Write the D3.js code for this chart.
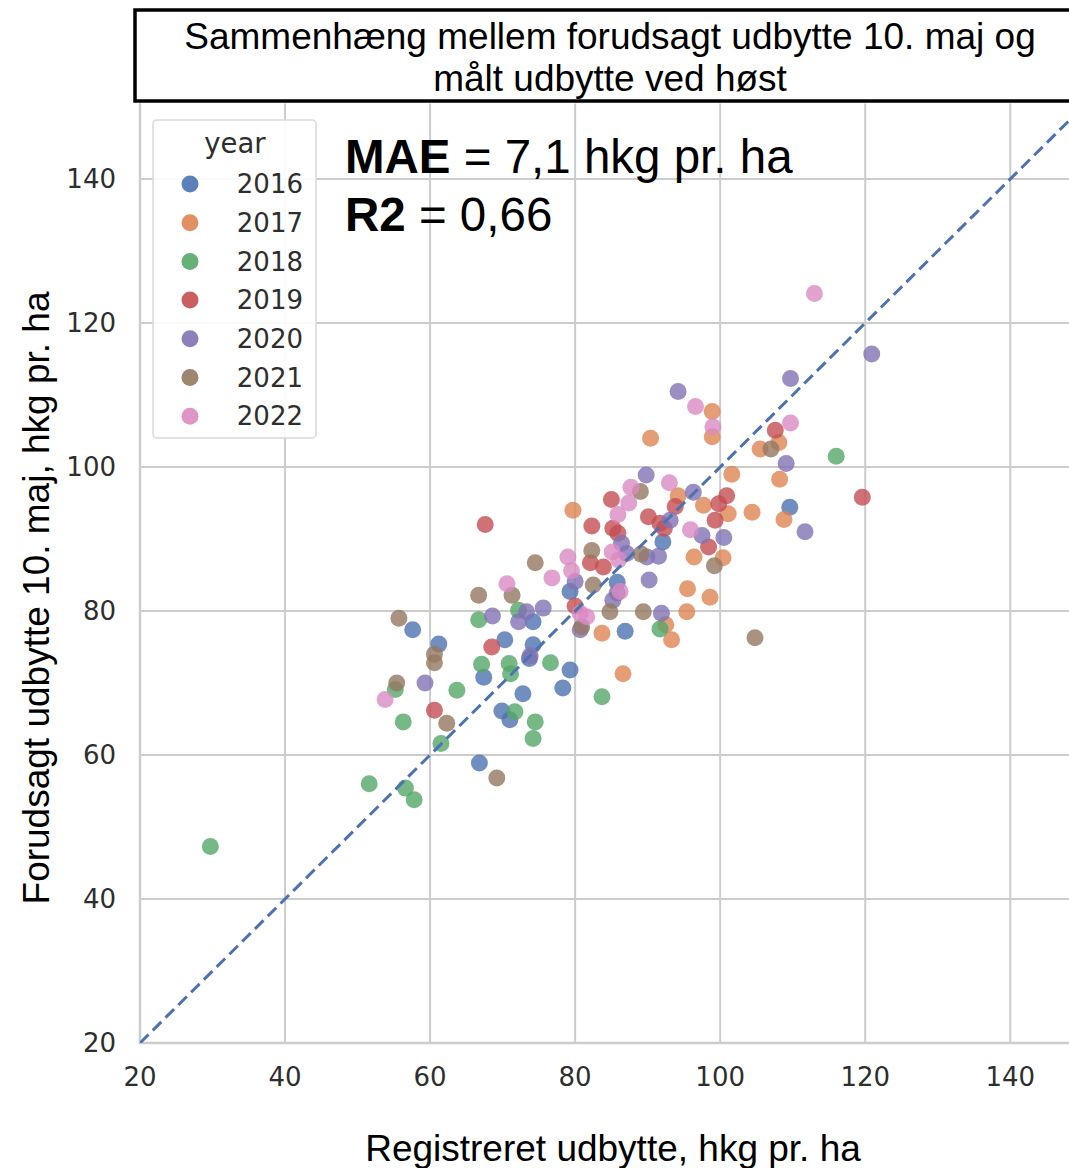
<!DOCTYPE html>
<html>
<head>
<meta charset="utf-8">
<script src="https://cdn.jsdelivr.net/npm/d3@7"></script>
<style>
  body { margin: 0; background: #fff; }
</style>
</head>
<body>
<svg id="chart" width="1069" height="1168"></svg>
<script>
// [registreret, forudsagt] per year
const pts2016 = [[57.6,77.4],[61.2,75.4],[66.8,58.9],[67.4,70.8],[70.3,76.0],[69.9,66.1],[71.0,64.9],[72.8,68.5],[74.2,75.3],[73.7,73.4],[74.2,78.5],[79.3,71.8],[78.3,69.3],[79.3,82.7],[92.1,89.6],[86.9,77.2],[109.6,94.4],[85.8,84.0]];
const pts2017 = [[79.7,94.0],[90.4,104.0],[98.9,107.7],[98.9,104.2],[94.2,96.0],[97.7,94.7],[101.1,93.5],[101.6,99.0],[104.4,93.7],[105.5,102.5],[108.1,103.4],[108.2,98.3],[108.8,92.7],[96.4,87.5],[100.4,87.4],[95.5,83.1],[98.6,81.9],[95.4,79.9],[92.5,78.1],[93.3,76.0],[83.7,76.9],[86.6,71.3]];
const pts2018 = [[29.7,47.3],[51.6,56.0],[56.6,55.4],[57.8,53.8],[61.5,61.6],[56.3,64.6],[55.2,69.1],[63.7,69.0],[66.7,78.8],[67.1,72.6],[70.9,72.7],[71.1,71.3],[71.7,66.0],[74.5,64.6],[74.2,62.3],[76.6,72.8],[72.2,80.1],[83.7,68.1],[91.7,77.5],[116.0,101.5]];
const pts2019 = [[68.5,75.0],[67.6,92.0],[60.6,66.2],[82.3,91.8],[85.0,95.5],[85.2,91.5],[85.9,90.8],[90.1,93.1],[91.7,92.2],[92.3,91.5],[93.8,94.5],[99.8,94.9],[100.9,96.0],[99.3,92.6],[98.4,88.9],[107.6,105.1],[119.6,95.8],[82.1,86.7],[83.9,86.1],[80.0,80.7]];
const pts2020 = [[59.3,70.0],[68.6,79.3],[72.2,78.5],[73.3,79.9],[75.6,80.4],[73.8,73.8],[80.0,84.1],[80.7,77.4],[86.4,89.4],[87.1,88.0],[89.9,87.5],[91.5,87.6],[85.8,82.5],[90.2,84.3],[85.2,81.5],[91.9,79.7],[89.8,98.9],[93.1,92.6],[96.3,96.5],[97.5,90.5],[100.5,90.2],[94.2,110.5],[109.1,100.5],[109.7,112.3],[111.7,91.0],[120.9,115.7]];
const pts2021 = [[55.7,79.0],[60.6,74.0],[60.6,72.8],[55.4,70.0],[62.3,64.4],[69.2,56.8],[66.7,82.2],[71.3,82.2],[74.5,86.7],[82.3,88.4],[82.5,83.6],[84.8,79.9],[89.4,79.9],[89.0,96.6],[89.1,87.9],[99.2,86.3],[107.0,102.5],[104.8,76.3],[80.9,77.8]];
const pts2022 = [[53.8,67.7],[70.6,83.8],[76.8,84.6],[79.0,87.5],[79.5,85.6],[80.7,79.7],[81.6,79.2],[85.9,93.4],[87.4,95.0],[87.7,97.2],[85.1,88.2],[86.0,87.1],[86.2,82.7],[93.0,97.8],[95.9,91.3],[96.6,108.4],[99.0,105.6],[109.7,106.1],[113.0,124.1]];

const years = ['2016', '2017', '2018', '2019', '2020', '2021', '2022'];
const yearPoints = [pts2016, pts2017, pts2018, pts2019, pts2020, pts2021, pts2022];
const palette = ['#4c72b0', '#dd8452', '#55a868', '#c44e52', '#8172b3', '#937860', '#da8bc3'];
const xTicks = [20, 40, 60, 80, 100, 120, 140];
const yTicks = [20, 40, 60, 80, 100, 120, 140];
const titleLines = ['Sammenhæng mellem forudsagt udbytte 10. maj og', 'målt udbytte ved høst'];

const svg = d3.select('#chart');
const x = d3.scaleLinear().domain([20, 148.1]).range([140, 1069]);
const y = d3.scaleLinear().domain([20, 150.5]).range([1043, 103.4]);
const color = d3.scaleOrdinal().domain(years).range(palette);

const tickFont = '"DejaVu Sans", sans-serif';
const labelFont = '"Liberation Sans", Arial, sans-serif';

svg.append('defs').append('clipPath').attr('id', 'plot-clip')
    .append('rect')
    .attr('x', x(20)).attr('y', y(150.5))
    .attr('width', x(148.1) - x(20)).attr('height', y(20) - y(150.5));

// grid
const grid = svg.append('g').attr('stroke', '#cccccc').attr('stroke-width', 2);
grid.selectAll('line.vx').data(xTicks).join('line')
    .attr('x1', d => x(d)).attr('x2', d => x(d))
    .attr('y1', y(20)).attr('y2', y(150.5));
grid.selectAll('line.hy').data(yTicks).join('line')
    .attr('y1', d => y(d)).attr('y2', d => y(d))
    .attr('x1', x(20)).attr('x2', x(148.1));

// spines
svg.append('line').attr('x1', x(20)).attr('x2', x(20)).attr('y1', y(20) + 1).attr('y2', y(150.5))
    .attr('stroke', '#cccccc').attr('stroke-width', 2.5);
svg.append('line').attr('x1', x(20) - 1).attr('x2', x(148.1)).attr('y1', y(20)).attr('y2', y(20))
    .attr('stroke', '#cccccc').attr('stroke-width', 2.5);

// tick labels
svg.append('g').selectAll('text').data(xTicks).join('text')
    .attr('x', d => x(d)).attr('y', y(20) + 43)
    .attr('text-anchor', 'middle')
    .style('font', `26px ${tickFont}`).attr('fill', '#2e2e2e')
    .text(d => d);
svg.append('g').selectAll('text').data(yTicks).join('text')
    .attr('x', x(20) - 24).attr('y', d => y(d)).attr('dy', '0.35em')
    .attr('text-anchor', 'end')
    .style('font', `26px ${tickFont}`).attr('fill', '#2e2e2e')
    .text(d => d);

// points
const plot = svg.append('g').attr('clip-path', 'url(#plot-clip)');
yearPoints.forEach((pts, i) => {
    plot.append('g').selectAll('circle').data(pts).join('circle')
        .attr('cx', d => x(d[0])).attr('cy', d => y(d[1]))
        .attr('r', 8.5)
        .attr('fill', color(years[i]))
        .attr('fill-opacity', 0.8);
});

// 1:1 line
plot.append('line')
    .attr('x1', x(20)).attr('y1', y(20))
    .attr('x2', x(150.5)).attr('y2', y(150.5))
    .attr('stroke', '#4c72b0').attr('stroke-width', 3)
    .attr('stroke-dasharray', '12,6');

// legend
const legend = svg.append('g');
legend.append('rect')
    .attr('x', 153).attr('y', 120).attr('width', 163).attr('height', 318)
    .attr('rx', 4).attr('fill', '#fff').attr('fill-opacity', 0.9)
    .attr('stroke', '#d9d9d9').attr('stroke-width', 1.5);
legend.append('text').attr('x', 235).attr('y', 153)
    .attr('text-anchor', 'middle')
    .style('font', `27.5px ${tickFont}`).attr('fill', '#2e2e2e')
    .text('year');
const item = legend.selectAll('g.item').data(years).join('g')
    .attr('transform', (d, i) => `translate(0,${184 + i * 38.7})`);
item.append('circle').attr('cx', 190).attr('r', 8.5)
    .attr('fill', d => color(d)).attr('fill-opacity', 0.9);
item.append('text').attr('x', 303).attr('dy', '0.35em')
    .attr('text-anchor', 'end')
    .style('font', `26px ${tickFont}`).attr('fill', '#2e2e2e')
    .text(d => d);

// stats
const stats = svg.append('g').style('font', `47.5px ${labelFont}`).attr('fill', '#000');
const mae = stats.append('text').attr('x', 345).attr('y', 173);
mae.append('tspan').attr('font-weight', 'bold').text('MAE');
mae.append('tspan').text(' = 7,1 hkg pr. ha');
const r2 = stats.append('text').attr('x', 345).attr('y', 231);
r2.append('tspan').attr('font-weight', 'bold').text('R2');
r2.append('tspan').text(' = 0,66');

// title box
svg.append('rect')
    .attr('x', 135).attr('y', 10).attr('width', 960).attr('height', 91)
    .attr('fill', '#fff').attr('stroke', '#000').attr('stroke-width', 3.5);
svg.append('g').selectAll('text').data(titleLines).join('text')
    .attr('x', 610).attr('y', (d, i) => 49 + i * 42)
    .attr('text-anchor', 'middle')
    .style('font', `37px ${labelFont}`).attr('fill', '#000')
    .text(d => d);

// axis labels
svg.append('text')
    .attr('x', 613).attr('y', 1161)
    .attr('text-anchor', 'middle')
    .style('font', `37px ${labelFont}`).attr('fill', '#000')
    .text('Registreret udbytte, hkg pr. ha');
svg.append('text')
    .attr('transform', 'translate(49,598) rotate(-90)')
    .attr('text-anchor', 'middle')
    .style('font', `37px ${labelFont}`).attr('fill', '#000')
    .text('Forudsagt udbytte 10. maj, hkg pr. ha');
</script>
</body>
</html>
